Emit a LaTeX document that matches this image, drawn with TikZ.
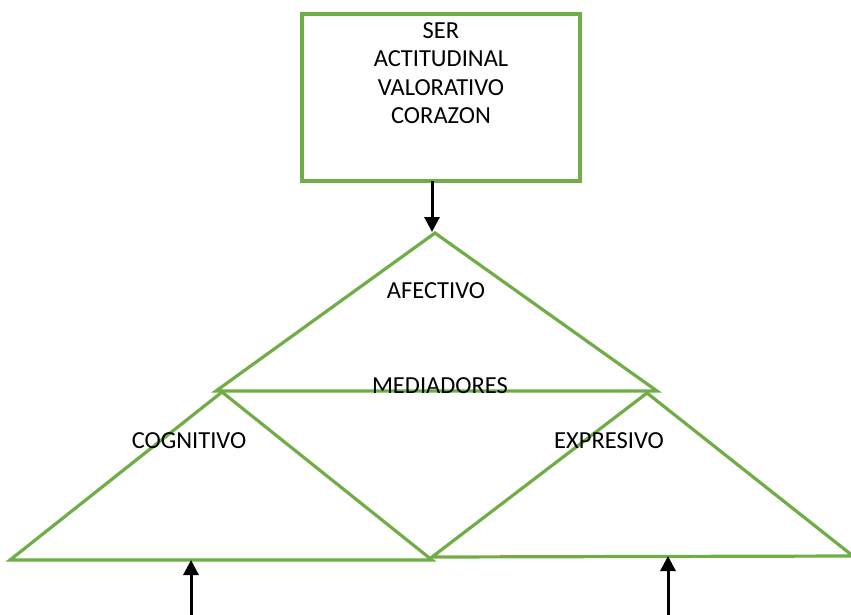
\documentclass[tikz,border=0pt]{standalone}
\usepackage{fontspec}
\setmainfont{Carlito}
\usetikzlibrary{arrows.meta}
\definecolor{ogreen}{HTML}{70AD47}
\tikzset{
  gline/.style={draw=ogreen, line width=3.2pt, line join=miter},
  blackarrow/.style={draw=black, line width=3pt, -{Triangle[length=15pt,width=15pt]}},
  lbl/.style={font=\fontsize{24.5}{28.5}\selectfont, inner sep=0pt, align=center}
}
\begin{document}
\begin{tikzpicture}[x=1pt,y=-1pt]
\useasboundingbox (0,0) rectangle (851,614);
% box
\node[gline, minimum width=278pt, minimum height=167pt, inner sep=0pt] (box) at (441,97.5) {};
\node[lbl, anchor=north] (boxtext) at (441,22) {SER\\ACTITUDINAL\\VALORATIVO\\CORAZON};
% top triangle
\coordinate (tA) at (435,233);
\coordinate (tL) at (216,391);
\coordinate (tR) at (657,391);
\draw[gline] (tA) -- (tL) -- (tR) -- cycle;
% left triangle
\coordinate (lA) at (222,392);
\coordinate (lL) at (10,560);
\coordinate (lR) at (432,560);
\draw[gline] (lA) -- (lL) -- (lR) -- cycle;
% right triangle
\coordinate (rA) at (647,393);
\coordinate (rL) at (432,557);
\coordinate (rR) at (853,556);
\draw[gline] (rA) -- (rL) -- (rR) -- cycle;
% labels
\node[lbl] (afectivo) at (436,291) {AFECTIVO};
\node[lbl] (mediadores) at (440,386) {MEDIADORES};
\node[lbl] (cognitivo) at (189,441) {COGNITIVO};
\node[lbl] (expresivo) at (609,441) {EXPRESIVO};
% arrows
\coordinate (a1s) at (432,181);
\coordinate (a1e) at (432,232);
\draw[blackarrow] (a1s) -- (a1e);
\coordinate (a2s) at (191,616);
\coordinate (a2e) at (191,560);
\draw[blackarrow] (a2s) -- (a2e);
\coordinate (a3s) at (668,616);
\coordinate (a3e) at (668,556);
\draw[blackarrow] (a3s) -- (a3e);
\end{tikzpicture}
\end{document}
